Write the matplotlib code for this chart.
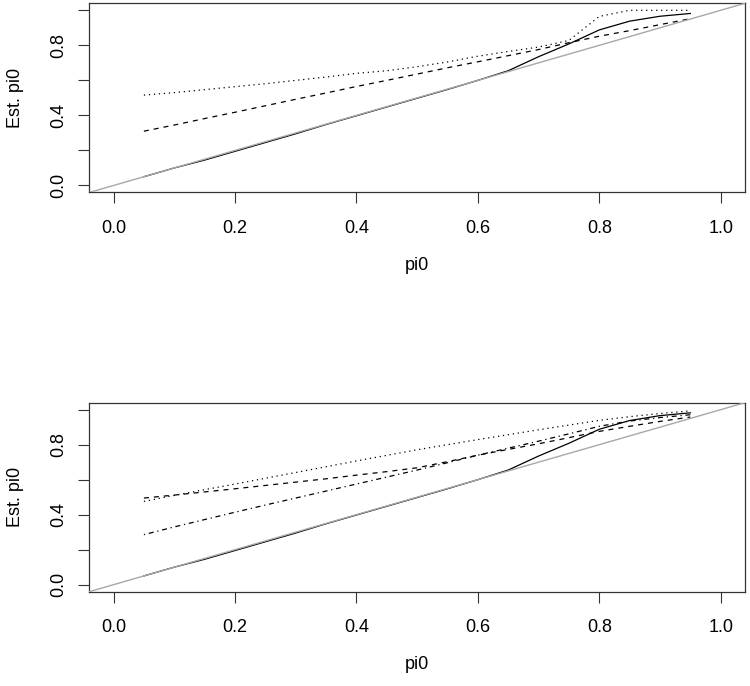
import numpy as np
import matplotlib
matplotlib.use("Agg")
from matplotlib import pyplot as plt

# true pi0 grid
pi0 = [0.05, 0.10, 0.15, 0.20, 0.25, 0.30, 0.35, 0.40, 0.45, 0.50,
       0.55, 0.60, 0.65, 0.70, 0.75, 0.80, 0.85, 0.90, 0.95]

# estimated pi0, solid line (same method in both panels)
est_solid = [0.050, 0.100, 0.145, 0.195, 0.245, 0.295, 0.348, 0.398, 0.448, 0.498,
             0.548, 0.600, 0.655, 0.735, 0.808, 0.888, 0.938, 0.966, 0.982]

# top panel
top_dashed = [0.310, 0.345, 0.382, 0.418, 0.455, 0.492, 0.528, 0.565, 0.600, 0.636,
              0.672, 0.706, 0.741, 0.776, 0.815, 0.852, 0.884, 0.918, 0.952]
top_dotted = [0.516, 0.530, 0.547, 0.564, 0.581, 0.600, 0.619, 0.640, 0.655, 0.678,
              0.705, 0.738, 0.765, 0.790, 0.828, 0.965, 1.000, 1.000, 1.000]

# bottom panel
bot_dashed = [0.495, 0.512, 0.530, 0.548, 0.567, 0.586, 0.605, 0.626, 0.646, 0.668,
              0.703, 0.740, 0.773, 0.805, 0.840, 0.876, 0.905, 0.933, 0.958]
bot_dotted = [0.476, 0.510, 0.543, 0.575, 0.608, 0.641, 0.674, 0.707, 0.739, 0.771,
              0.800, 0.829, 0.857, 0.885, 0.912, 0.939, 0.960, 0.978, 0.993]
bot_dotdash = [0.286, 0.330, 0.372, 0.414, 0.455, 0.495, 0.535, 0.575, 0.615, 0.655,
               0.697, 0.740, 0.780, 0.820, 0.862, 0.905, 0.935, 0.955, 0.971]

xticks = [0.0, 0.2, 0.4, 0.6, 0.8, 1.0]
yticks = [0.0, 0.2, 0.4, 0.6, 0.8, 1.0]
ylabels = ["0.0", "", "0.4", "", "0.8", ""]

plt.rcParams['font.family'] = ['Liberation Sans', 'DejaVu Sans']
plt.rcParams['font.size'] = 13

LW = 0.9
styles = {
    'solid': '-',
    'dashed': (0, (4, 4)),
    'dotted': (0, (1, 3)),
    'dotdash': (0, (1, 3, 4, 3)),
}

fig = plt.figure(figsize=(7.5, 6.86), dpi=100)
ax1 = fig.add_axes([0.119, 0.7194, 0.8743, 0.2758])
ax2 = fig.add_axes([0.119, 0.1375, 0.8743, 0.2755])


def setup(ax):
    ax.set_xlim(-0.04, 1.04)
    ax.set_ylim(-0.04, 1.04)
    # reference line drawn over the estimates, like abline after lines()
    ax.axline((0, 0), slope=1, color='#a8a8a8', lw=1.0, zorder=5)
    ax.set_xticks(xticks)
    ax.set_xticklabels(["%.1f" % t for t in xticks])
    ax.set_yticks(yticks)
    ax.set_yticklabels(ylabels, rotation=90, va='center')
    ax.tick_params(length=8, width=0.8, color='#333333')
    ax.tick_params(axis='x', pad=12)
    ax.tick_params(axis='y', pad=8)
    for s in ax.spines.values():
        s.set_color('#333333')
        s.set_linewidth(0.9)
    ax.set_xlabel("pi0", labelpad=14)
    ax.set_ylabel("Est. pi0", labelpad=19)


setup(ax1)
ax1.plot(pi0, est_solid, color='black', lw=LW, linestyle=styles['solid'])
ax1.plot(pi0, top_dashed, color='black', lw=LW, linestyle=styles['dashed'])
ax1.plot(pi0, top_dotted, color='black', lw=LW, linestyle=styles['dotted'])

setup(ax2)
ax2.plot(pi0, est_solid, color='black', lw=LW, linestyle=styles['solid'])
ax2.plot(pi0, bot_dashed, color='black', lw=LW, linestyle=styles['dashed'])
ax2.plot(pi0, bot_dotted, color='black', lw=LW, linestyle=styles['dotted'])
ax2.plot(pi0, bot_dotdash, color='black', lw=LW, linestyle=styles['dotdash'])

fig.savefig("out.png", dpi=100)
